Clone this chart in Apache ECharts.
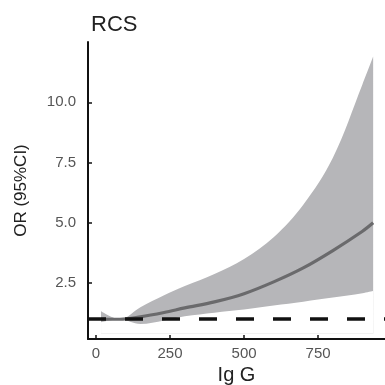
<!DOCTYPE html>
<html>
<head>
<meta charset="utf-8">
<script src="https://cdn.jsdelivr.net/npm/echarts@6/dist/echarts.min.js"></script>
<style>
  html, body { margin: 0; padding: 0; background: #fff; }
  #chart { width: 385px; height: 385px; }
</style>
</head>
<body>
<div id="chart"></div>
<script>
// Ig G values and restricted cubic spline OR with 95% CI
const igG = [17, 81, 150, 230, 300, 400, 500, 600, 700, 800, 900, 936];
const orMean = [1.0, 1.0, 1.1, 1.28, 1.47, 1.72, 2.06, 2.55, 3.13, 3.85, 4.65, 5.0];
const ciLower = [0.88, 1.0, 0.8, 0.95, 1.12, 1.27, 1.4, 1.57, 1.73, 1.9, 2.08, 2.17];
const ciUpper = [1.33, 1.0, 1.5, 2.0, 2.38, 2.88, 3.5, 4.4, 5.75, 7.7, 10.75, 11.9];
const xTicks = [0, 250, 500, 750];
const yTicks = [2.5, 5, 7.5, 10];
const refOR = 1;

const chart = echarts.init(document.getElementById("chart"));

const upperData = igG.map((x, i) => [x, ciUpper[i]]);
const lowerData = igG.map((x, i) => [x, ciLower[i]]);
const meanData = igG.map((x, i) => [x, orMean[i]]);

const labelStyle = {
  color: "#555",
  fontSize: 15,
  fontFamily: "Liberation Sans"
};

const option = {
  animation: false,
  title: {
    text: "RCS",
    left: 86,
    top: 9,
    textStyle: { fontSize: 22, fontWeight: "normal", color: "#222", fontFamily: "Liberation Sans" }
  },
  grid: { left: 88, right: 0, top: 42, bottom: 46, outerBoundsMode: "none", containLabel: false },
  xAxis: {
    type: "value",
    min: -27,
    max: 976,
    name: "Ig G",
    nameLocation: "middle",
    nameGap: 24,
    nameTextStyle: { fontSize: 20, color: "#222", fontFamily: "Liberation Sans" },
    axisLine: { show: true, onZero: false, lineStyle: { color: "#111", width: 2 } },
    axisTick: { show: true, inside: true, length: 4, customValues: xTicks, lineStyle: { color: "#111", width: 1.5 } },
    axisLabel: Object.assign({ customValues: xTicks, margin: 7 }, labelStyle),
    splitLine: { show: false }
  },
  yAxis: {
    type: "value",
    min: 0.18,
    max: 12.5,
    name: "OR (95%CI)",
    nameLocation: "middle",
    nameGap: 58,
    nameTextStyle: { fontSize: 17, color: "#222", fontFamily: "Liberation Sans" },
    axisLine: { show: true, onZero: false, lineStyle: { color: "#111", width: 2 } },
    axisTick: { show: true, inside: true, length: 4, customValues: yTicks, lineStyle: { color: "#111", width: 1.5 } },
    axisLabel: Object.assign({
      customValues: yTicks,
      margin: 12,
      formatter: v => v.toFixed(1)
    }, labelStyle),
    splitLine: { show: false }
  },
  series: [
    {
      // upper CI filled grey down to the base
      type: "line",
      data: upperData,
      smooth: 0.35,
      symbol: "none",
      lineStyle: { opacity: 0 },
      areaStyle: { color: "#b6b6b9", opacity: 1, origin: 0.4 },
      silent: true,
      z: 2
    },
    {
      // lower CI cleared back to white, leaving the band
      type: "line",
      data: lowerData,
      smooth: 0.35,
      symbol: "none",
      lineStyle: { opacity: 0 },
      areaStyle: { color: "#ffffff", opacity: 1, origin: 0.4 },
      silent: true,
      z: 2
    },
    {
      type: "line",
      data: meanData,
      smooth: 0.35,
      symbol: "none",
      lineStyle: { color: "#6a6a6c", width: 3.2 },
      z: 4,
      markLine: {
        silent: true,
        symbol: "none",
        label: { show: false },
        lineStyle: { color: "#111", width: 3.5, type: [18, 19] },
        data: [{ yAxis: refOR }]
      }
    }
  ]
};

chart.setOption(option);
</script>
</body>
</html>
